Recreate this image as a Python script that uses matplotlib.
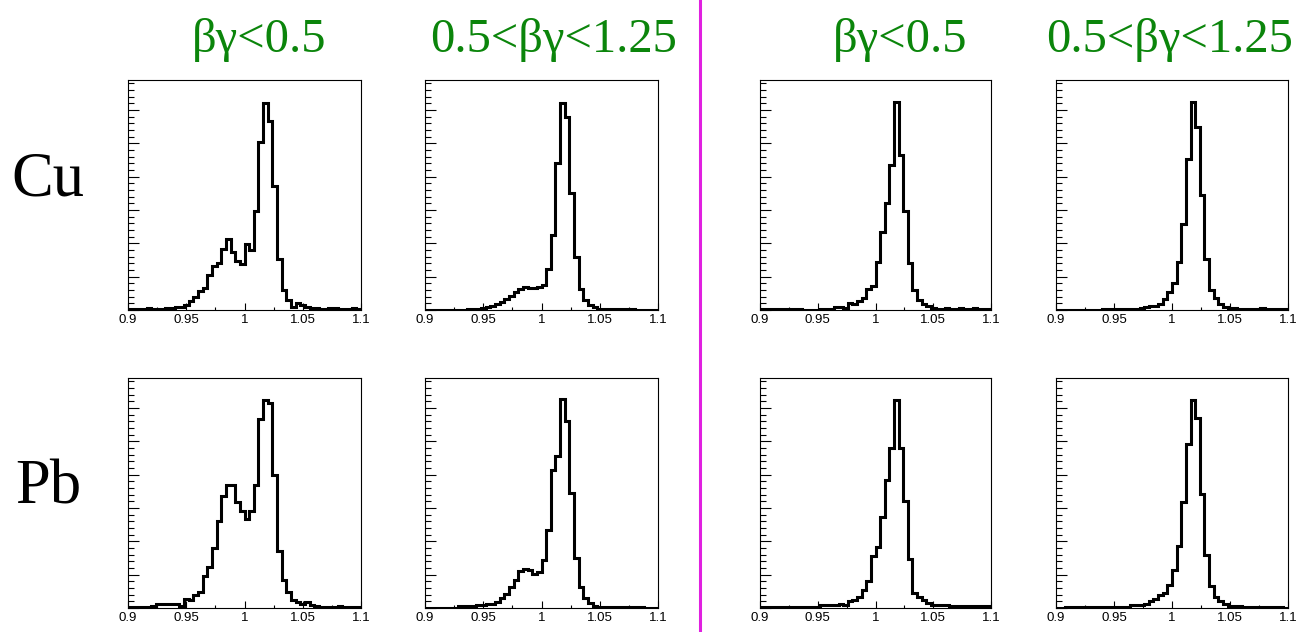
import numpy as np
import matplotlib
matplotlib.use("Agg")
from matplotlib import pyplot as plt
from matplotlib.lines import Line2D
from matplotlib.ticker import MultipleLocator, FixedLocator

# bin contents (percent of the frame height), 50 bins 0.9 .. 1.1
cu_low_a = [0.4, 0.4, 0.3, 0.3, 1.0, 0.3, 0.3, 0.5, 0.9, 0.7,
            1.2, 1.5, 2.0, 4.0, 5.8, 8.4, 9.4, 15.0, 19.0, 20.6,
            26.4, 31.0, 25.0, 21.5, 20.0, 28.7, 26.0, 43.0, 73.0, 90.0,
            82.0, 54.0, 22.0, 8.7, 4.3, 1.5, 3.0, 2.0, 1.2, 0.8,
            1.0, 0.6, 0.5, 0.7, 0.7, 0.6, 0.5, 0.5, 0.7, 0.5]
cu_mid_a = [0, 0, 0, 0, 0, 0, 0, 0, 0, 0.5,
            0.5, 0.6, 0.8, 1.2, 1.7, 2.5, 3.4, 4.6, 6.0, 8.0,
            9.3, 10.2, 9.7, 9.5, 10.0, 11.0, 17.8, 32.8, 64.0, 90.0,
            84.0, 51.0, 23.0, 9.0, 4.4, 2.2, 1.2, 0.6, 0.5, 0.5,
            0.5, 0.5, 0.5, 0.5, 0.4, 0, 0, 0, 0, 0]
pb_low_a = [0.5, 0.5, 0.5, 0.5, 0.5, 1.0, 1.7, 1.7, 1.7, 1.7,
            1.7, 0.8, 4.0, 3.6, 5.8, 7.0, 13.8, 18.0, 26.0, 37.7,
            48.5, 53.6, 53.6, 46.0, 42.0, 38.7, 42.0, 53.6, 82.0, 90.6,
            89.0, 58.0, 24.6, 12.0, 6.8, 3.6, 2.6, 1.7, 2.6, 1.5,
            0.8, 0.5, 0.5, 0.5, 0.5, 0.9, 0.5, 0.5, 0.3, 0.3]
pb_mid_a = [0.2, 0.2, 0.2, 0.2, 0.2, 0.2, 0.2, 0.7, 0.7, 0.7,
            1.0, 1.3, 1.3, 1.7, 1.7, 2.8, 4.3, 6.0, 9.0, 12.3,
            16.0, 17.0, 16.4, 15.0, 15.5, 21.0, 34.0, 60.0, 66.0, 91.0,
            81.5, 50.0, 21.6, 9.0, 4.2, 2.2, 1.0, 0.6, 0.6, 0.6,
            0.6, 0.6, 0.6, 0.6, 0.6, 0.6, 0.6, 0.2, 0.2, 0.2]
cu_low_b = [0.3, 0.3, 0.3, 0.3, 0.3, 0.3, 0.6, 0.5, 0.3, 0.2,
            0.2, 0.2, 0.2, 0.5, 0.5, 0.6, 1.3, 1.3, 1.0, 3.2,
            2.5, 4.0, 5.0, 9.0, 10.5, 21.0, 34.0, 46.5, 63.0, 90.6,
            67.5, 43.0, 20.5, 8.8, 4.2, 2.8, 1.8, 1.0, 0.6, 0.6,
            0.8, 0.5, 0.6, 0.8, 0.5, 0.6, 0.8, 0.5, 0.6, 0.3]
cu_mid_b = [0.15, 0.15, 0.15, 0.15, 0.15, 0.15, 0.15, 0.15, 0.15, 0.15,
            0.6, 0.5, 0.5, 0.5, 0.5, 0.5, 0.5, 0.5, 0.8, 1.3,
            1.6, 1.9, 2.5, 4.7, 7.9, 11.7, 21.0, 37.6, 65.8, 90.6,
            79.5, 50.0, 22.2, 8.8, 5.0, 2.5, 1.5, 0.9, 0.9, 0.6,
            0.6, 0.6, 0.6, 0.6, 0.8, 0.3, 0.3, 0.3, 0.3, 0.3]
pb_low_b = [0.3, 0.3, 0.3, 0.3, 0.6, 0.6, 0.6, 0.6, 0.6, 0.6,
            0.6, 0.6, 0.6, 1.4, 1.4, 1.4, 1.4, 1.6, 1.2, 2.9,
            3.6, 4.6, 8.0, 11.6, 22.5, 26.4, 39.4, 55.8, 69.6, 90.6,
            69.6, 46.4, 21.4, 6.5, 5.0, 3.6, 2.2, 1.4, 1.2, 1.2,
            1.2, 0.9, 0.9, 0.9, 0.9, 0.9, 0.9, 0.9, 0.9, 0.9]
pb_mid_b = [0.2, 0.2, 0.6, 0.6, 0.6, 0.6, 0.6, 0.6, 0.6, 0.6,
            0.6, 0.6, 0.6, 0.6, 0.6, 0.6, 1.2, 1.2, 1.2, 1.9,
            2.9, 4.0, 5.5, 6.7, 10.0, 16.4, 27.0, 46.0, 71.4, 90.3,
            82.6, 49.7, 22.9, 9.6, 4.8, 2.9, 1.7, 0.9, 0.9, 0.9,
            0.6, 0.6, 0.6, 0.6, 0.6, 0.6, 0.6, 0.6, 0.6, 0.2]

col_titles = ["βγ<0.5", "0.5<βγ<1.25", "βγ<0.5", "0.5<βγ<1.25"]
row_labels = ["Cu", "Pb"]
x_ticks = [0.9, 0.95, 1.0, 1.05, 1.1]
x_tick_labels = ["0.9", "0.95", "1", "1.05", "1.1"]

hists = [[cu_low_a, cu_mid_a, cu_low_b, cu_mid_b],
         [pb_low_a, pb_mid_a, pb_low_b, pb_mid_b]]
edges = np.linspace(0.9, 1.1, 51)

W, H = 1314, 632
fig = plt.figure(figsize=(W / 100, H / 100), dpi=100)

# frame positions in pixels (left, width) and (top, bottom)
cols_px = [(128, 233), (425, 233), (760, 231), (1056, 232)]
rows_px = [(80, 310), (378, 608)]

for r, (top, bot) in enumerate(rows_px):
    for c, (left, wid) in enumerate(cols_px):
        ax = fig.add_axes([left / W, 1 - bot / H, wid / W, (bot - top) / H])
        ax.stairs(hists[r][c], edges, color="black", lw=2.2)
        ax.set_xlim(0.9, 1.1)
        ax.set_ylim(0, 100)
        ax.xaxis.set_major_locator(FixedLocator(x_ticks))
        ax.set_xticklabels(x_tick_labels, family="Liberation Sans", fontsize=9.5)
        ax.xaxis.set_minor_locator(MultipleLocator(0.025))
        ax.yaxis.set_major_locator(MultipleLocator(14.5))
        ax.yaxis.set_minor_locator(MultipleLocator(2.9))
        ax.tick_params(axis="both", which="both", direction="in", width=0.8,
                       top=False, right=False)
        ax.tick_params(axis="x", which="major", length=5, pad=3)
        ax.tick_params(axis="x", which="minor", length=2.5)
        ax.tick_params(axis="y", which="major", length=8, labelleft=False)
        ax.tick_params(axis="y", which="minor", length=4)
        for s in ax.spines.values():
            s.set_linewidth(0.8)

# column headings
green = "#0b850b"
for x, t in zip([259, 554, 900, 1170], col_titles):
    fig.text(x / W, 1 - 52 / H, t, color=green, fontsize=35,
             family="Liberation Serif", ha="center", va="baseline")

# row labels
for y, t in zip([195, 503], row_labels):
    fig.text(48 / W, 1 - y / H, t, color="black", fontsize=45,
             family="Liberation Serif", ha="center", va="baseline")

# magenta separator
fig.add_artist(Line2D([700 / W, 700 / W], [0, 1], color="#e020e0", lw=2.2))

fig.savefig("out.png", dpi=100)
